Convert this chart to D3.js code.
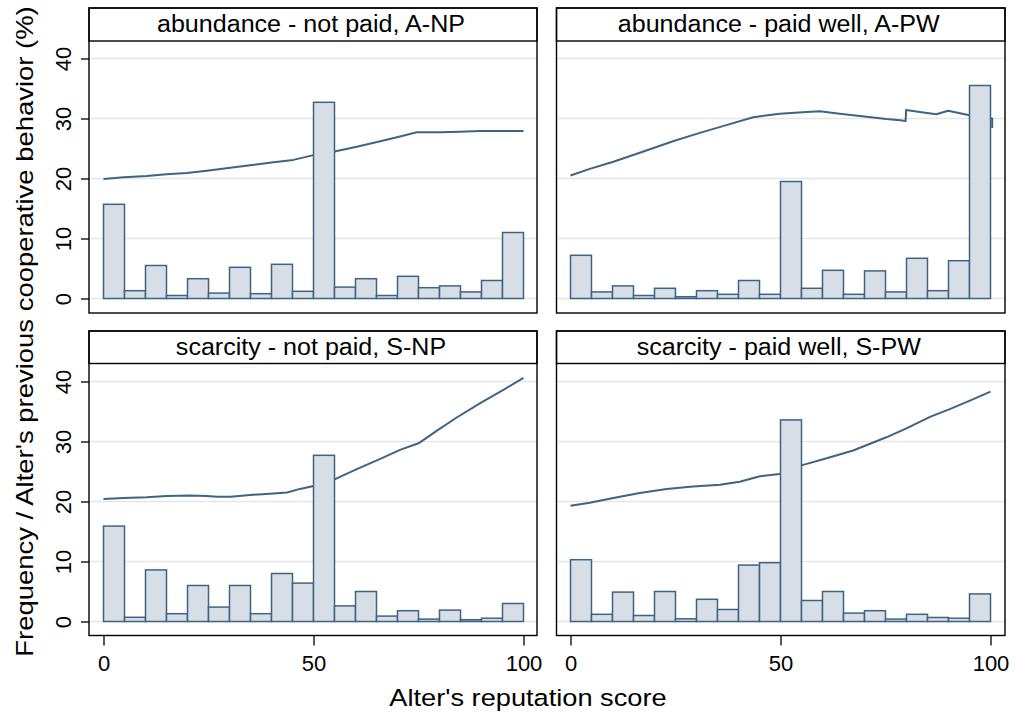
<!DOCTYPE html>
<html>
<head>
<meta charset="utf-8">
<script src="https://cdn.jsdelivr.net/npm/d3@7"></script>
<style>
  body { margin: 0; background: #fff; }
  text { font-family: "Liberation Sans", Arial, sans-serif; fill: #000; }
</style>
</head>
<body>
<script>
// Histogram bins (start of each 5-point bin) and panel titles
var binStarts = [0,5,10,15,20,25,30,35,40,45,50,55,60,65,70,75,80,85,90,95]
var panelTitles = ["abundance - not paid, A-NP", "abundance - paid well, A-PW",
                   "scarcity - not paid, S-NP", "scarcity - paid well, S-PW"]
var yTicks = [0, 10, 20, 30, 40]
var xTicks = [0, 50, 100]

// Frequency (%) per bin
var freqANP = [15.7,1.3,5.5,0.5,3.3,0.9,5.2,0.8,5.7,1.2,32.7,1.9,3.3,0.5,3.7,1.8,2.1,1.1,3.0,11.0]
var freqAPW = [7.2,1.1,2.1,0.5,1.7,0.3,1.3,0.7,3.0,0.7,19.5,1.7,4.7,0.7,4.6,1.1,6.7,1.3,6.3,35.5]
var freqSNP = [15.9,0.7,8.6,1.3,6.0,2.4,6.0,1.3,8.0,6.4,27.7,2.6,5.0,0.9,1.8,0.4,1.9,0.3,0.55,3.0]
var freqSPW = [10.3,1.2,4.9,1.0,5.0,0.45,3.7,2.0,9.4,9.8,33.6,3.5,5.0,1.4,1.8,0.4,1.2,0.67,0.55,4.6]

// Alter's previous cooperative behavior (%), smoothed line [score, value]
var coopANP = [[0,19.9],[4.8,20.2],[10.3,20.4],[15,20.7],[19.8,20.9],[24.6,21.3],[30.2,21.8],[34.9,22.2],
               [40.5,22.7],[45.2,23.1],[50,23.9],[55,24.5],[60.3,25.3],[65.9,26.2],[70.6,27.0],[74.6,27.7],
               [80.2,27.7],[84.9,27.8],[89.7,27.9],[95,27.9],[100,27.9]]
var coopAPW = [[0,20.5],[4.6,21.6],[10.2,22.8],[16.5,24.3],[24.4,26.2],[30.8,27.6],[37.1,28.9],[43.5,30.2],
               [49.8,30.8],[56.2,31.1],[59.4,31.2],[64.1,30.8],[70.5,30.3],[75.2,29.9],[78.5,29.7],[79.8,29.6],
               [79.9,31.4],[84,31.0],[87.1,30.7],[89.9,31.3],[94.7,30.6],[99.5,30.1],[100.4,30.0],[100.4,28.4]]
var coopSNP = [[0,20.4],[4.8,20.6],[10.3,20.7],[15.1,20.9],[20.6,21.0],[24.6,20.9],[27,20.8],[30.2,20.8],
               [34.9,21.1],[39.7,21.3],[43.7,21.5],[46.8,22.1],[50,22.6],[55,23.7],[60.3,25.4],[65.9,27.1],
               [70.6,28.6],[75,29.7],[79.4,31.8],[84.1,34.0],[89.7,36.4],[95.2,38.6],[100,40.6]]
var coopSPW = [[0,19.3],[4.6,19.8],[10.2,20.6],[16.5,21.4],[22.9,22.1],[29.2,22.5],[35.6,22.8],[40.3,23.3],
               [45.1,24.2],[49.8,24.6],[55.4,26.1],[61,27.2],[67.3,28.5],[75.2,30.7],[80,32.2],[85.6,34.1],
               [90.3,35.4],[95.1,36.8],[100,38.3]]

var panelFreq = [freqANP, freqAPW, freqSNP, freqSPW]
var panelCoop = [coopANP, coopAPW, coopSNP, coopSPW]

var width = 1019, height = 712
var lineColor = "#3e6485", barFill = "#d7dee5", gridColor = "#e6e6e6"

// Panel geometry
var cols = [{left: 89, right: 537, x0: 103.5, x100: 523.5},
            {left: 556.5, right: 1005, x0: 570.5, x100: 990.5}]
var rows = [{top: 8, strip: 33, y0: 298.5, y40: 58.5, bottom: 313},
            {top: 331, strip: 32.5, y0: 621.5, y40: 381.5, bottom: 635.5}]

var svg = d3.select("body").append("svg")
            .attr("width", width)
            .attr("height", height)

// the original text is set a bit wider than Liberation Sans
function widen(sel, factor) {
  var len = sel.node().getComputedTextLength()
  sel.attr("textLength", len * factor).attr("lengthAdjust", "spacingAndGlyphs")
}

function drawPanel(i) {
  var row = rows[Math.floor(i / 2)], col = cols[i % 2]
  var x = d3.scaleLinear().domain([0, 100]).range([col.x0, col.x100])
  var y = d3.scaleLinear().domain([0, 40]).range([row.y0, row.y40])
  var g = svg.append("g").attr("class", "panel")

  // grid lines
  g.selectAll(".grid")
   .data(yTicks)
   .enter().append("line")
   .attr("x1", col.left).attr("x2", col.right)
   .attr("y1", function(d){ return y(d) })
   .attr("y2", function(d){ return y(d) })
   .style("stroke", gridColor)
   .style("stroke-width", 1.5)

  // smoothed line (drawn under the bars)
  var line = d3.line()
               .x(function(d){ return x(d[0]) })
               .y(function(d){ return y(d[1]) })
  g.append("path")
   .datum(panelCoop[i])
   .attr("d", line)
   .style("fill", "none")
   .style("stroke", lineColor)
   .style("stroke-width", 2)
   .style("stroke-linejoin", "round")

  // histogram bars
  g.selectAll(".bar")
   .data(panelFreq[i])
   .enter().append("rect")
   .attr("x", function(d, j){ return x(binStarts[j]) })
   .attr("width", function(d, j){ return x(binStarts[j] + 5) - x(binStarts[j]) })
   .attr("y", function(d){ return y(d) })
   .attr("height", function(d){ return y(0) - y(d) })
   .style("fill", barFill)
   .style("stroke", lineColor)
   .style("stroke-width", 1.5)

  // strip with title
  g.append("rect")
   .attr("x", col.left).attr("y", row.top)
   .attr("width", col.right - col.left).attr("height", row.strip)
   .style("fill", "#fff").style("stroke", "#000").style("stroke-width", 1.4)
  var title = g.append("text")
   .attr("x", (col.left + col.right) / 2 - 2)
   .attr("y", row.top + 23.5)
   .attr("text-anchor", "middle")
   .style("font-size", "23px")
   .text(panelTitles[i])
  widen(title, 1.09)

  // outer box
  g.append("rect")
   .attr("x", col.left).attr("y", row.top)
   .attr("width", col.right - col.left).attr("height", row.bottom - row.top)
   .style("fill", "none").style("stroke", "#000").style("stroke-width", 1.4)

  // y axis on left column
  if (i % 2 == 0) {
    var yAxis = g.append("g")
                 .attr("transform", "translate(" + col.left + ",0)")
                 .call(d3.axisLeft(y).tickValues(yTicks).tickSize(8).tickFormat(d3.format("d")))
    yAxis.select(".domain").remove()
    yAxis.selectAll("line").style("stroke", "#000").style("stroke-width", 1.3)
    yAxis.selectAll("text")
         .attr("x", null).attr("dy", null)
         .attr("transform", "translate(-18,0) rotate(-90)")
         .attr("text-anchor", "middle")
         .style("font-size", "22px")
         .style("font-family", "'Liberation Sans', Arial, sans-serif")
  }

  // x axis on bottom row
  if (i >= 2) {
    var xAxis = g.append("g")
                 .attr("transform", "translate(0," + row.bottom + ")")
                 .call(d3.axisBottom(x).tickValues(xTicks).tickSize(10).tickFormat(d3.format("d")))
    xAxis.select(".domain").remove()
    xAxis.selectAll("line").style("stroke", "#000").style("stroke-width", 1.3)
    xAxis.selectAll("text")
         .attr("y", 35.5).attr("dy", null)
         .style("font-size", "22px")
         .style("font-family", "'Liberation Sans', Arial, sans-serif")
  }
}

for (var i = 0; i < 4; i++) {
  drawPanel(i)
}

// axis titles
var xTitle = svg.append("text")
   .attr("x", 528)
   .attr("y", 706)
   .attr("text-anchor", "middle")
   .style("font-size", "24.5px")
   .text("Alter's reputation score")
widen(xTitle, 1.11)

var yTitle = svg.append("text")
   .attr("transform", "translate(33,331.5) rotate(-90)")
   .attr("text-anchor", "middle")
   .style("font-size", "24.5px")
   .text("Frequency / Alter's previous cooperative behavior (%)")
widen(yTitle, 1.12)
</script>
</body>
</html>
